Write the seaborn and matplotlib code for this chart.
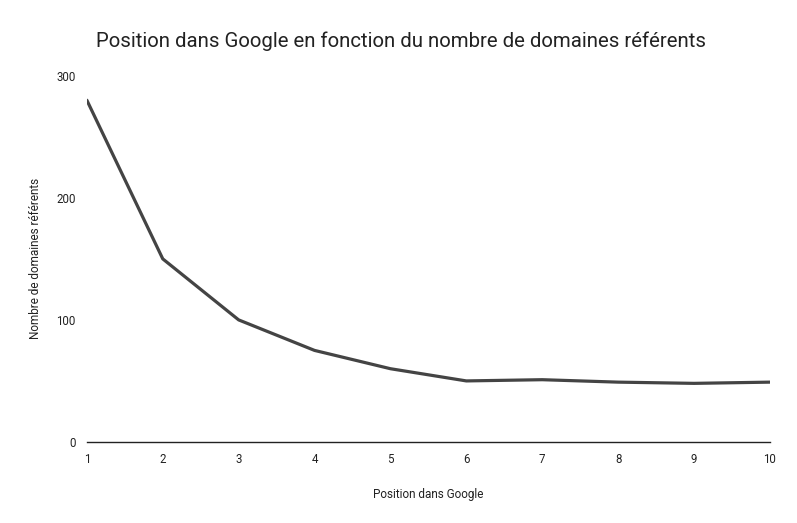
import matplotlib
matplotlib.use("Agg")
import matplotlib.pyplot as plt
import seaborn as sns
import pandas as pd

# -----------------------------
# DATA
# -----------------------------
positions = [1, 2, 3, 4, 5, 6, 7, 8, 9, 10]
domaines = [280, 150, 100, 75, 60, 50, 51, 49, 48, 49]
y_ticks = [0, 100, 200, 300]

df = pd.DataFrame({"position": positions, "domaines": domaines})

# -----------------------------
# STYLE
# -----------------------------
sns.set_style("white")
plt.rcParams["font.family"] = ["Roboto", "DejaVu Sans"]

fig = plt.figure(figsize=(7.97, 5.23), dpi=100)
ax = fig.add_axes([0.109, 0.155, 0.857, 0.70])

sns.lineplot(data=df, x="position", y="domaines", ax=ax,
             color="#444444", linewidth=2.3)

ax.set_xlim(1, 10)
ax.set_ylim(0, 300)
ax.set_xticks(positions)
ax.set_yticks(y_ticks)
ax.tick_params(axis="both", length=0, labelsize=8.3, colors="#222222")
ax.tick_params(axis="x", pad=8)
ax.tick_params(axis="y", pad=8)

for side in ["top", "right", "left"]:
    ax.spines[side].set_visible(False)
ax.spines["bottom"].set_color("#222222")
ax.spines["bottom"].set_linewidth(1.0)

ax.set_xlabel("Position dans Google", fontsize=8.5, labelpad=16, color="#222222")
ax.set_ylabel("Nombre de domaines référents", fontsize=8.5, labelpad=10, color="#222222")
fig.suptitle("Position dans Google en fonction du nombre de domaines référents",
             x=0.121, y=0.94, ha="left", fontsize=14.7, color="#222222")

fig.savefig("out.png", dpi=100)
